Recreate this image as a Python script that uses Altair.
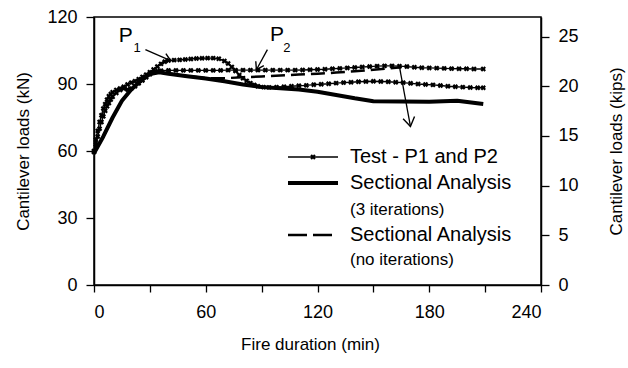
import math
import altair as alt
import pandas as pd

# ---------------- data ----------------
p1_time = [0, 1, 2, 3, 4, 5, 6, 7, 8, 9, 10, 12, 14, 16, 18, 20, 22, 24, 26, 28, 30, 32, 34, 36, 38,
           40, 43, 46, 49, 52, 55, 58, 61, 64, 67, 70, 72, 74, 76, 78, 80, 82, 84, 86, 88, 91, 94, 98,
           102, 106, 110, 114, 118, 122, 126, 130, 134, 138, 142, 146, 150, 154, 158, 162, 166, 170,
           174, 178, 182, 186, 190, 194, 198, 202, 206, 209]
p1_load = [60, 65, 69, 73, 76, 79, 81, 83, 84.5, 85.5, 86.3, 87.3, 88, 88.8, 89.8, 90.6, 91.3, 92.2,
           93.2, 94.2, 95.3, 96.5, 97.8, 99, 100, 100.5, 100.7, 100.8, 101, 101.2, 101.4, 101.5, 101.6,
           101.6, 101.3, 100.3, 99.2, 97.6, 95.8, 94, 92.6, 91.4, 90.4, 89.6, 89, 88.6, 88.5, 88.6,
           88.8, 89, 89.2, 89.4, 89.7, 89.9, 90.1, 90.4, 90.6, 90.8, 91, 91.1, 91.2, 91.1, 91, 90.8,
           90.6, 90.3, 90, 89.8, 89.6, 89.3, 89, 88.8, 88.6, 88.4, 88.3, 88.3]

p2_time = [0, 1, 2, 3, 4, 5, 6, 7, 8, 9, 10, 12, 14, 16, 18, 20, 22, 24, 26, 28, 30, 32, 34, 36, 40,
           44, 48, 52, 56, 60, 64, 68, 72, 76, 80, 84, 88, 92, 96, 100, 104, 108, 112, 116, 120, 124,
           128, 132, 136, 140, 144, 148, 152, 156, 160, 164, 168, 172, 176, 180, 184, 188, 192, 196,
           200, 204, 209]
p2_load = [59.5, 63, 66.5, 70, 73, 75.5, 78, 80, 81.5, 83, 84.3, 86, 87.3, 88, 87.5, 88, 89, 90.3,
           91.6, 93, 94.3, 95.3, 95.8, 96, 96.1, 96.1, 96.1, 96.1, 96.1, 96.1, 96.1, 96.1, 96.2, 96.2,
           96.2, 96.2, 96.2, 96.2, 96.2, 96.2, 96.2, 96.2, 96.3, 96.4, 96.5, 96.6, 96.8, 97, 97.2,
           97.4, 97.6, 97.8, 98, 98.1, 98.1, 98, 97.8, 97.5, 97.3, 97.2, 97.1, 97, 96.9, 96.8, 96.8,
           96.7, 96.7]

sa3_time = [0, 5, 10, 15, 20, 25, 30, 35, 40, 50, 60, 70, 80, 90, 100, 110, 120, 130, 140, 150,
            165, 180, 195, 209]
sa3_load = [59, 66.5, 75, 82.5, 87.5, 91.3, 94.5, 95.2, 94.6, 93.5, 92.5, 91.2, 89.8, 88.6, 88.1,
            87.5, 86.5, 85.1, 83.6, 82.3, 82.2, 82, 82.5, 81]

sa0_time = [0, 5, 10, 15, 20, 25, 30, 35, 40, 50, 60, 70, 80, 90, 100, 110, 120, 130, 140, 150,
            158, 165]
sa0_load = [59, 66.5, 75, 82.5, 87.5, 91.3, 94.5, 95.2, 94.6, 93.5, 92.6, 92.6, 93, 93.4, 93.8,
            94.2, 94.6, 95.1, 95.7, 96.4, 97, 97.5]

# annotation arrows (start / end in data units)
arrow_x1 = [27.6, 93.1, 164.0]
arrow_y1 = [105.4, 105.4, 97.8]
arrow_x2 = [41.1, 87.2, 169.9]
arrow_y2 = [100.5, 96.4, 71.0]
arrow_head = [200, 200, 320]

# "P" labels
p_label_x = [17.1, 98.2]
p_label_y = [111.4, 111.9]
p_sub_text = ["1", "2"]
p_sub_x = [23.1, 103.6]
p_sub_y = [106.0, 106.0]

KN_PER_KIP = 4.448
kip_ticks = [0, 5, 10, 15, 20, 25]

x_ticks = [0, 30, 60, 90, 120, 150, 180, 210, 240]
y_ticks = [0, 30, 60, 90, 120]

legend_labels = ["Test - P1 and P2", "Sectional Analysis", "(3 iterations)",
                 "Sectional Analysis", "(no iterations)"]

# ---------------- layout ----------------
W, H = 447, 268
FONT = "Liberation Sans"
MARK_SIZE = 30

df_p1 = pd.DataFrame({"t": p1_time, "load": p1_load})
df_p2 = pd.DataFrame({"t": p2_time, "load": p2_load})
df_sa3 = pd.DataFrame({"t": sa3_time, "load": sa3_load})
df_sa0 = pd.DataFrame({"t": sa0_time, "load": sa0_load})

xscale = alt.Scale(domain=[0, 240], nice=False, zero=False)
yscale = alt.Scale(domain=[0, 120], nice=False, zero=False)

x_axis = alt.Axis(values=x_ticks, labelExpr="datum.value % 60 == 0 ? datum.label : ''",
                  title="Fire duration (min)", grid=False, tickSize=7, labelPadding=11,
                  titleX=216, titleY=59, titleBaseline="middle", titleFontSize=17,
                  titleFontWeight="normal", labelFontSize=18)
X = alt.X("t:Q", scale=xscale, axis=x_axis)

left_axis = alt.Axis(values=y_ticks, title="Cantilever loads (kN)", orient="left", grid=False,
                     tickSize=8, labelPadding=9, labelFontSize=18, titleFontSize=17,
                     titleFontWeight="normal", titleX=-71, titleY=H / 2, titleAngle=270,
                     titleBaseline="middle", titleAlign="center")
right_axis = alt.Axis(values=[k * KN_PER_KIP for k in kip_ticks],
                      labelExpr=f"format(datum.value / {KN_PER_KIP}, '.0f')",
                      title="Cantilever loads (kips)", orient="right", grid=False,
                      tickSize=8, labelPadding=9, labelFontSize=18, titleFontSize=17,
                      titleFontWeight="normal", titleX=75, titleY=H / 2, titleAngle=270,
                      titleBaseline="middle", titleAlign="center")

Y_left = alt.Y("load:Q", scale=yscale, axis=left_axis)
Y_right = alt.Y("load:Q", scale=yscale, axis=right_axis)
Y_none = alt.Y("load:Q", scale=yscale, axis=None)

# lines
sa3_line = alt.Chart(df_sa3).mark_line(color="black", strokeWidth=4, strokeCap="butt",
                                       strokeJoin="round").encode(x=X, y=Y_left)
sa0_line = alt.Chart(df_sa0).mark_line(color="black", strokeWidth=2.5,
                                       strokeDash=[14, 6]).encode(x=X, y=Y_right)
p1_line = alt.Chart(df_p1).mark_line(color="black", strokeWidth=1.4).encode(x=X, y=Y_none)
p2_line = alt.Chart(df_p2).mark_line(color="black", strokeWidth=1.4).encode(x=X, y=Y_none)
p1_pts = alt.Chart(df_p1).mark_point(shape="cross", angle=45, filled=True, color="black",
                                     size=MARK_SIZE, opacity=1).encode(x=X, y=Y_none)
p2_pts = alt.Chart(df_p2).mark_point(shape="cross", angle=45, filled=True, color="black",
                                     size=MARK_SIZE, opacity=1).encode(x=X, y=Y_none)

# arrows
angles = []
for x1, y1, x2, y2 in zip(arrow_x1, arrow_y1, arrow_x2, arrow_y2):
    dx = (x2 - x1) * W / 240.0
    dy = -(y2 - y1) * H / 120.0
    angles.append(math.degrees(math.atan2(dy, dx)) % 360)
df_arrow = pd.DataFrame({"x1": arrow_x1, "y1": arrow_y1, "x2": arrow_x2, "y2": arrow_y2,
                         "ang": angles, "hs": arrow_head})
arrow_lines = alt.Chart(df_arrow).mark_rule(color="black", strokeWidth=1.3).encode(
    x=alt.X("x1:Q", scale=xscale, axis=x_axis), y=alt.Y("y1:Q", scale=yscale, axis=None),
    x2="x2:Q", y2="y2:Q")
arrow_heads = alt.Chart(df_arrow).mark_point(
    shape="M-1,-0.65L0,0L-1,0.65", filled=False, color="black", strokeWidth=1.4, opacity=1
).encode(x=alt.X("x2:Q", scale=xscale, axis=x_axis),
         y=alt.Y("y2:Q", scale=yscale, axis=None),
         angle=alt.Angle("ang:Q", scale=None),
         size=alt.Size("hs:Q", scale=None, legend=None))

df_p = pd.DataFrame({"x": p_label_x, "y": p_label_y, "txt": ["P", "P"]})
df_sub = pd.DataFrame({"x": p_sub_x, "y": p_sub_y, "txt": p_sub_text})
p_text = alt.Chart(df_p).mark_text(fontSize=21, font=FONT, color="black").encode(
    x=alt.X("x:Q", scale=xscale, axis=x_axis), y=alt.Y("y:Q", scale=yscale, axis=None),
    text="txt:N")
sub_text = alt.Chart(df_sub).mark_text(fontSize=13, font=FONT, color="black").encode(
    x=alt.X("x:Q", scale=xscale, axis=x_axis), y=alt.Y("y:Q", scale=yscale, axis=None),
    text="txt:N")

# manual legend (pixel positions inside the plot area)
one = alt.Data(values=[{"a": 1}])
LX0, LX1, LTX = 194, 244, 256
rows = [140, 166, 193, 218, 243]
leg = []
leg.append(alt.Chart(one).mark_rule(color="black", strokeWidth=1.4).encode(
    x=alt.value(LX0), x2=alt.value(LX1), y=alt.value(rows[0])))
leg.append(alt.Chart(one).mark_point(shape="cross", angle=45, filled=True, color="black",
                                      size=MARK_SIZE, opacity=1).encode(
    x=alt.value((LX0 + LX1) / 2), y=alt.value(rows[0])))
leg.append(alt.Chart(one).mark_rule(color="black", strokeWidth=4).encode(
    x=alt.value(LX0), x2=alt.value(LX1), y=alt.value(rows[1])))
leg.append(alt.Chart(one).mark_rule(color="black", strokeWidth=2.5, strokeDash=[19, 6]).encode(
    x=alt.value(LX0), x2=alt.value(LX1 - 6), y=alt.value(rows[3])))
for i, lab in enumerate(legend_labels):
    fs = 17 if lab.startswith("(") else 20
    leg.append(alt.Chart(one).mark_text(align="left", baseline="middle", fontSize=fs, font=FONT,
                                        color="black").encode(
        x=alt.value(LTX), y=alt.value(rows[i]), text=alt.value(lab)))

chart = alt.layer(
    sa3_line, sa0_line, p1_line, p2_line, p1_pts, p2_pts, arrow_lines, arrow_heads,
    p_text, sub_text, *leg
).resolve_axis(y="independent").properties(
    width=W, height=H,
    padding={"left": 94, "top": 17, "right": 628 - 94 - W, "bottom": 368 - 17 - H},
    autosize=alt.AutoSizeParams(type="none"),
).configure_view(stroke="black", strokeWidth=1.5).configure_axis(
    domainColor="black", domainWidth=1.5, tickColor="black", tickWidth=1.3,
    labelColor="black", titleColor="black", labelFont=FONT, titleFont=FONT,
)

chart.save("out.html", embed_options={"renderer": "svg", "actions": False})
